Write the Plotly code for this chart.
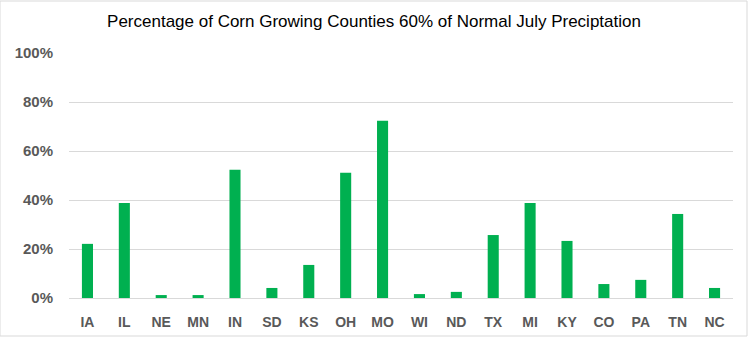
import plotly.graph_objects as go

states = ["IA", "IL", "NE", "MN", "IN", "SD", "KS", "OH", "MO", "WI", "ND", "TX", "MI", "KY", "CO", "PA", "TN", "NC"]
pct = [0.221, 0.388, 0.012, 0.012, 0.523, 0.041, 0.135, 0.511, 0.723, 0.016, 0.025, 0.257, 0.388, 0.233, 0.057, 0.074, 0.343, 0.041]
y_ticks = [0, 0.2, 0.4, 0.6, 0.8, 1.0]
y_tick_labels = ["0%", "20%", "40%", "60%", "80%", "100%"]

fig = go.Figure(go.Bar(x=states, y=pct, marker=dict(color="#00b050", line=dict(width=0))))

fig.update_layout(
    width=748, height=337,
    margin=dict(l=69, r=15, t=53, b=39, autoexpand=False),
    paper_bgcolor="white", plot_bgcolor="white",
    bargap=0.7,
    showlegend=False,
    title=dict(text="Percentage of Corn Growing Counties 60% of Normal July Preciptation",
               x=0.5, xanchor="center", y=1 - 21/337, yanchor="middle",
               font=dict(family="Liberation Sans Narrow, Liberation Sans, Arial", size=17, color="#000000")),
    font=dict(family="Liberation Sans, Arial", color="#595959"),
    shapes=[dict(type="rect", xref="paper", yref="paper", x0=-69/664, x1=1+14/664, y0=-38/245, y1=1+52/245,
                 line=dict(color="#d9d9d9", width=1), fillcolor="rgba(0,0,0,0)")],
)
fig.update_yaxes(range=[0, 1.0], tickvals=y_ticks, ticktext=y_tick_labels, automargin=False,
                 showgrid=True, gridcolor="#d9d9d9", gridwidth=1, zeroline=False,
                 showline=False, ticks="", tickfont=dict(size=15, color="#595959", family="Liberation Sans, Arial", weight="bold"),
                 ticklabelstandoff=15)
fig.update_xaxes(showline=True, linecolor="#d9d9d9", linewidth=1, ticks="", automargin=False,
                 tickfont=dict(size=14, color="#595959", family="Liberation Sans, Arial", weight="bold"),
                 ticklabelstandoff=11)

fig.write_html("out.html")
